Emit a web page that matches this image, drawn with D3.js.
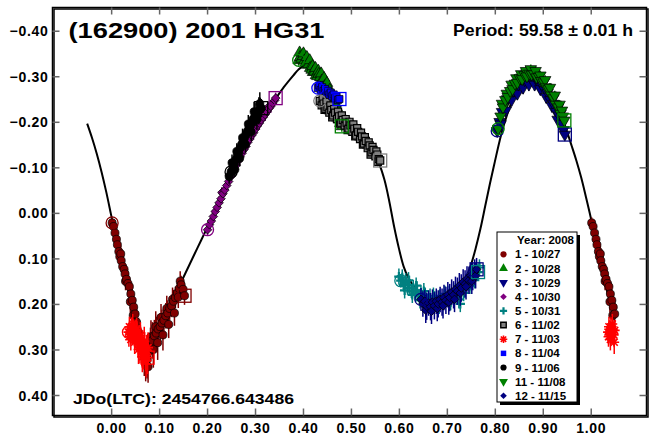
<!DOCTYPE html>
<html><head><meta charset="utf-8">
<script src="https://cdn.jsdelivr.net/npm/d3@7"></script>
<style>
body{margin:0;background:#fff}
svg{display:block}
text{font-family:"Liberation Sans",Arial,sans-serif;font-weight:bold;fill:#000}
</style>
</head><body>
<svg id="c" width="652" height="437"></svg>
<script>
// ---------- DATA ----------
const xTicks = [0.00,0.10,0.20,0.30,0.40,0.50,0.60,0.70,0.80,0.90,1.00];
const yTicks = [-0.40,-0.30,-0.20,-0.10,0.00,0.10,0.20,0.30,0.40];
const titleText = "(162900) 2001 HG31";
const periodText = "Period: 59.58 \u00B1 0.01 h";
const epochText = "JDo(LTC): 2454766.643486";
const legendTitle = "Year: 2008";

// Fourier fit curve (phase, reduced magnitude)
const fitPhase = [-0.05,-0.04,-0.03,-0.02,-0.01,0.00,0.01,0.02,0.03,0.04,0.05,0.06,0.07,0.08,0.09,0.10,0.11,0.12,0.13,0.14,0.16,0.18,0.20,0.22,0.24,0.26,0.28,0.30,0.32,0.34,0.36,0.38,0.39,0.40,0.41,0.42,0.44,0.46,0.48,0.50,0.52,0.54,0.55,0.56,0.57,0.58,0.59,0.60,0.61,0.62,0.64,0.66,0.68,0.70,0.72,0.74,0.75,0.76,0.77,0.78,0.79,0.80,0.81,0.82,0.84,0.86,0.88,0.90,0.92,0.94,0.95,0.96,0.97,0.98,0.99,1.00,1.01,1.02,1.03,1.04,1.05];
const fitMag = [-0.196,-0.165,-0.130,-0.090,-0.045,0.005,0.055,0.100,0.145,0.190,0.228,0.260,0.283,0.290,0.280,0.260,0.238,0.215,0.191,0.166,0.121,0.077,0.033,-0.012,-0.057,-0.100,-0.142,-0.180,-0.215,-0.246,-0.276,-0.302,-0.314,-0.322,-0.322,-0.313,-0.285,-0.254,-0.221,-0.190,-0.162,-0.136,-0.122,-0.104,-0.072,-0.025,0.030,0.078,0.118,0.143,0.172,0.186,0.190,0.184,0.168,0.140,0.115,0.078,0.035,-0.015,-0.065,-0.112,-0.158,-0.197,-0.255,-0.285,-0.296,-0.287,-0.258,-0.210,-0.180,-0.148,-0.115,-0.078,-0.035,0.010,0.060,0.110,0.155,0.195,0.228];

// sessions: [phase, mag, error]; first entry = session start, last entry = session end
const s1_1027 = [[0.002,0.022,0.012],[0.005,0.030,0.015],[0.008,0.044,0.014],[0.011,0.058,0.016],[0.013,0.070,0.018],[0.016,0.085,0.016],[0.018,0.096,0.020],[0.020,0.090,0.018],[0.021,0.105,0.018],[0.024,0.118,0.020],[0.027,0.124,0.020],[0.029,0.134,0.022],[0.030,0.150,0.020],[0.032,0.146,0.020],[0.035,0.155,0.024],[0.038,0.162,0.022],[0.040,0.195,0.024],[0.041,0.178,0.025],[0.044,0.192,0.025],[0.046,0.225,0.026],[0.047,0.207,0.028],[0.050,0.222,0.030],[0.053,0.240,0.030],[0.057,0.262,0.032],[0.061,0.282,0.035],[0.065,0.300,0.040],[0.069,0.318,0.040],[0.072,0.330,0.040],[0.075,0.322,0.042],[0.077,0.338,0.035],[0.078,0.305,0.040],[0.082,0.290,0.038],[0.083,0.272,0.036],[0.086,0.280,0.040],[0.088,0.300,0.040],[0.090,0.270,0.035],[0.093,0.250,0.034],[0.094,0.264,0.036],[0.097,0.285,0.038],[0.098,0.255,0.032],[0.102,0.250,0.030],[0.104,0.230,0.030],[0.106,0.242,0.030],[0.108,0.268,0.034],[0.110,0.236,0.030],[0.114,0.226,0.028],[0.116,0.210,0.028],[0.118,0.220,0.028],[0.120,0.245,0.030],[0.122,0.210,0.026],[0.126,0.204,0.025],[0.128,0.190,0.026],[0.130,0.194,0.025],[0.132,0.220,0.028],[0.134,0.186,0.024],[0.138,0.176,0.022],[0.140,0.185,0.024],[0.142,0.166,0.022],[0.144,0.150,0.022],[0.146,0.158,0.020],[0.150,0.168,0.020],[0.153,0.182,0.020]];
const s2_1028 = [[0.391,-0.335,0.012],[0.393,-0.352,0.012],[0.394,-0.342,0.012],[0.397,-0.338,0.012],[0.400,-0.344,0.012],[0.401,-0.350,0.012],[0.403,-0.334,0.012],[0.406,-0.330,0.012],[0.408,-0.342,0.012],[0.409,-0.325,0.012],[0.412,-0.326,0.012],[0.414,-0.335,0.012],[0.415,-0.318,0.012],[0.418,-0.314,0.012],[0.420,-0.322,0.012],[0.421,-0.309,0.012],[0.424,-0.310,0.012],[0.426,-0.318,0.012],[0.427,-0.302,0.012],[0.430,-0.300,0.012],[0.432,-0.312,0.012],[0.433,-0.305,0.012],[0.436,-0.298,0.012],[0.438,-0.306,0.012],[0.439,-0.290,0.012],[0.442,-0.284,0.012],[0.444,-0.296,0.012],[0.445,-0.278,0.012],[0.448,-0.270,0.012],[0.450,-0.285,0.012],[0.451,-0.262,0.012],[0.454,-0.256,0.012],[0.456,-0.270,0.012],[0.457,-0.248,0.012],[0.460,-0.240,0.012],[0.462,-0.255,0.012],[0.463,-0.233,0.012],[0.466,-0.226,0.012],[0.468,-0.240,0.012],[0.469,-0.220,0.012],[0.472,-0.212,0.012],[0.474,-0.225,0.012],[0.475,-0.205,0.012],[0.478,-0.197,0.012],[0.479,-0.210,0.012],[0.481,-0.190,0.012]];
const s3_1029 = [[0.805,-0.180,0.012],[0.810,-0.200,0.014],[0.812,-0.195,0.014],[0.815,-0.222,0.012],[0.820,-0.236,0.014],[0.823,-0.225,0.014],[0.826,-0.250,0.012],[0.832,-0.256,0.014],[0.835,-0.248,0.014],[0.838,-0.268,0.012],[0.844,-0.272,0.014],[0.847,-0.262,0.014],[0.850,-0.282,0.012],[0.856,-0.284,0.014],[0.859,-0.275,0.014],[0.862,-0.292,0.012],[0.868,-0.290,0.014],[0.871,-0.282,0.014],[0.874,-0.298,0.012],[0.880,-0.294,0.014],[0.883,-0.282,0.014],[0.886,-0.294,0.012],[0.892,-0.286,0.014],[0.895,-0.272,0.014],[0.898,-0.282,0.012],[0.904,-0.270,0.014],[0.907,-0.255,0.014],[0.910,-0.264,0.012],[0.916,-0.248,0.014],[0.919,-0.235,0.014],[0.922,-0.240,0.012],[0.928,-0.222,0.014],[0.931,-0.205,0.014],[0.934,-0.214,0.012],[0.940,-0.196,0.014],[0.943,-0.182,0.014],[0.946,-0.172,0.012]];
const s4_1030 = [[0.201,0.037,0.012],[0.205,0.026,0.012],[0.209,0.018,0.012],[0.213,0.008,0.014],[0.217,-0.003,0.012],[0.221,-0.012,0.012],[0.225,-0.022,0.014],[0.229,-0.031,0.012],[0.231,-0.045,0.012],[0.233,-0.042,0.012],[0.237,-0.050,0.014],[0.241,-0.060,0.012],[0.245,-0.069,0.012],[0.247,-0.082,0.012],[0.249,-0.079,0.014],[0.253,-0.088,0.012],[0.257,-0.096,0.012],[0.261,-0.105,0.014],[0.263,-0.118,0.012],[0.265,-0.114,0.012],[0.269,-0.123,0.012],[0.273,-0.131,0.014],[0.277,-0.139,0.012],[0.279,-0.150,0.012],[0.281,-0.146,0.012],[0.285,-0.155,0.014],[0.289,-0.162,0.012],[0.293,-0.170,0.012],[0.295,-0.180,0.012],[0.297,-0.176,0.014],[0.301,-0.184,0.012],[0.305,-0.191,0.012],[0.309,-0.197,0.014],[0.311,-0.208,0.012],[0.313,-0.204,0.012],[0.317,-0.210,0.012],[0.321,-0.216,0.014],[0.325,-0.222,0.012],[0.327,-0.232,0.012],[0.329,-0.229,0.012],[0.333,-0.234,0.014],[0.337,-0.241,0.012],[0.341,-0.247,0.012],[0.343,-0.252,0.012]];
const s5_1031 = [[0.604,0.149,0.015],[0.600,0.140,0.018],[0.607,0.142,0.018],[0.610,0.158,0.015],[0.612,0.170,0.018],[0.614,0.150,0.018],[0.618,0.165,0.015],[0.620,0.148,0.018],[0.622,0.158,0.020],[0.626,0.172,0.015],[0.628,0.180,0.018],[0.630,0.165,0.018],[0.634,0.178,0.015],[0.636,0.160,0.018],[0.638,0.170,0.020],[0.642,0.182,0.015],[0.644,0.192,0.018],[0.646,0.176,0.018],[0.650,0.188,0.015],[0.652,0.172,0.018],[0.655,0.182,0.018],[0.660,0.192,0.015],[0.662,0.200,0.018],[0.665,0.186,0.020],[0.670,0.196,0.015],[0.672,0.182,0.018],[0.675,0.190,0.018],[0.680,0.198,0.015],[0.684,0.204,0.018],[0.685,0.188,0.020],[0.690,0.194,0.015],[0.695,0.186,0.018],[0.696,0.178,0.018],[0.700,0.190,0.015],[0.705,0.180,0.020],[0.708,0.196,0.018],[0.710,0.186,0.015],[0.715,0.176,0.018],[0.718,0.172,0.018],[0.720,0.182,0.015],[0.725,0.190,0.020],[0.728,0.200,0.018],[0.730,0.165,0.015],[0.735,0.176,0.018],[0.738,0.168,0.018],[0.740,0.158,0.015],[0.745,0.150,0.018],[0.748,0.160,0.018],[0.750,0.142,0.015],[0.755,0.136,0.018],[0.758,0.148,0.018],[0.760,0.128,0.015],[0.768,0.120,0.018],[0.765,0.130,0.018]];
const s6_1102 = [[0.435,-0.246,0.010],[0.439,-0.236,0.010],[0.441,-0.252,0.010],[0.443,-0.240,0.010],[0.445,-0.226,0.010],[0.447,-0.228,0.010],[0.449,-0.244,0.010],[0.451,-0.232,0.010],[0.455,-0.220,0.010],[0.457,-0.236,0.010],[0.459,-0.226,0.010],[0.461,-0.210,0.010],[0.463,-0.214,0.010],[0.465,-0.228,0.010],[0.467,-0.220,0.010],[0.471,-0.206,0.010],[0.473,-0.222,0.010],[0.475,-0.212,0.010],[0.477,-0.196,0.010],[0.479,-0.198,0.010],[0.481,-0.214,0.010],[0.483,-0.204,0.010],[0.487,-0.192,0.010],[0.489,-0.206,0.010],[0.491,-0.198,0.010],[0.493,-0.182,0.010],[0.495,-0.185,0.010],[0.497,-0.200,0.010],[0.499,-0.192,0.010],[0.503,-0.178,0.010],[0.505,-0.194,0.010],[0.507,-0.185,0.010],[0.509,-0.168,0.010],[0.511,-0.170,0.010],[0.513,-0.186,0.010],[0.515,-0.178,0.010],[0.519,-0.162,0.010],[0.521,-0.176,0.010],[0.523,-0.168,0.010],[0.525,-0.150,0.010],[0.527,-0.152,0.010],[0.529,-0.166,0.010],[0.531,-0.158,0.010],[0.535,-0.142,0.010],[0.537,-0.155,0.010],[0.539,-0.148,0.010],[0.541,-0.128,0.010],[0.543,-0.133,0.010],[0.545,-0.145,0.010],[0.547,-0.138,0.010],[0.551,-0.124,0.010],[0.553,-0.135,0.010],[0.555,-0.128,0.010],[0.556,-0.112,0.010],[0.558,-0.118,0.010],[0.561,-0.115,0.010]];
const s7_1103 = [[0.036,0.262,0.020],[0.037,0.272,0.022],[0.038,0.250,0.022],[0.040,0.262,0.020],[0.041,0.278,0.024],[0.042,0.252,0.022],[0.044,0.266,0.022],[0.045,0.244,0.022],[0.046,0.256,0.022],[0.048,0.268,0.024],[0.049,0.284,0.026],[0.050,0.258,0.022],[0.052,0.274,0.028],[0.053,0.256,0.026],[0.054,0.266,0.028],[0.056,0.284,0.034],[0.057,0.300,0.032],[0.058,0.276,0.030],[0.060,0.296,0.035],[0.061,0.270,0.030],[0.062,0.284,0.032],[0.064,0.302,0.035],[0.065,0.316,0.034],[0.066,0.290,0.032],[0.068,0.308,0.036],[0.069,0.282,0.032],[0.070,0.296,0.034],[0.072,0.312,0.036],[0.073,0.325,0.036],[0.074,0.302,0.034],[0.077,0.296,0.034],[0.076,0.318,0.036]];
const s8_1104 = [[0.431,-0.274,0.010],[0.434,-0.280,0.010],[0.437,-0.270,0.010],[0.440,-0.276,0.010],[0.443,-0.268,0.010],[0.446,-0.272,0.010],[0.449,-0.264,0.010],[0.452,-0.268,0.010],[0.455,-0.260,0.010],[0.458,-0.264,0.010],[0.461,-0.256,0.010],[0.464,-0.260,0.010],[0.467,-0.252,0.010],[0.470,-0.256,0.010],[0.473,-0.248,0.010],[0.476,-0.250,0.010]];
const s9_1106 = [[0.250,-0.090,0.015],[0.246,-0.080,0.016],[0.252,-0.110,0.018],[0.254,-0.100,0.018],[0.257,-0.108,0.015],[0.258,-0.095,0.016],[0.260,-0.117,0.020],[0.262,-0.135,0.018],[0.263,-0.125,0.018],[0.266,-0.132,0.020],[0.268,-0.120,0.018],[0.269,-0.142,0.018],[0.272,-0.150,0.020],[0.274,-0.165,0.020],[0.275,-0.157,0.018],[0.278,-0.165,0.020],[0.280,-0.150,0.018],[0.281,-0.172,0.020],[0.284,-0.178,0.022],[0.286,-0.195,0.020],[0.287,-0.185,0.018],[0.290,-0.192,0.020],[0.292,-0.178,0.020],[0.293,-0.198,0.022],[0.296,-0.205,0.020],[0.298,-0.222,0.022],[0.299,-0.210,0.020],[0.302,-0.216,0.025],[0.304,-0.205,0.022],[0.305,-0.220,0.022],[0.308,-0.224,0.030],[0.310,-0.240,0.025],[0.311,-0.228,0.025],[0.313,-0.230,0.020]];
const s11_1108 = [[0.807,-0.185,0.010],[0.812,-0.212,0.010],[0.815,-0.240,0.010],[0.817,-0.232,0.010],[0.822,-0.248,0.010],[0.825,-0.262,0.010],[0.827,-0.255,0.010],[0.832,-0.268,0.010],[0.835,-0.282,0.010],[0.837,-0.272,0.010],[0.842,-0.284,0.010],[0.845,-0.296,0.010],[0.847,-0.286,0.010],[0.852,-0.296,0.010],[0.855,-0.305,0.010],[0.857,-0.294,0.010],[0.862,-0.303,0.010],[0.865,-0.312,0.010],[0.867,-0.300,0.010],[0.872,-0.306,0.010],[0.875,-0.316,0.010],[0.877,-0.304,0.010],[0.882,-0.305,0.010],[0.885,-0.312,0.010],[0.887,-0.298,0.010],[0.892,-0.299,0.010],[0.895,-0.302,0.010],[0.897,-0.290,0.010],[0.902,-0.287,0.010],[0.905,-0.292,0.010],[0.907,-0.276,0.010],[0.912,-0.272,0.010],[0.915,-0.275,0.010],[0.917,-0.258,0.010],[0.922,-0.252,0.010],[0.925,-0.258,0.010],[0.927,-0.238,0.010],[0.932,-0.232,0.010],[0.935,-0.238,0.010],[0.937,-0.218,0.010],[0.940,-0.225,0.010],[0.942,-0.212,0.010],[0.945,-0.203,0.010]];
const s12_1115 = [[0.646,0.190,0.025],[0.650,0.200,0.028],[0.654,0.194,0.025],[0.656,0.214,0.028],[0.658,0.205,0.030],[0.662,0.198,0.028],[0.666,0.206,0.030],[0.668,0.216,0.028],[0.670,0.196,0.028],[0.674,0.204,0.030],[0.678,0.194,0.028],[0.680,0.210,0.028],[0.682,0.200,0.030],[0.686,0.190,0.028],[0.690,0.196,0.030],[0.692,0.204,0.028],[0.694,0.186,0.028],[0.698,0.192,0.030],[0.702,0.180,0.028],[0.704,0.196,0.028],[0.706,0.186,0.030],[0.710,0.174,0.028],[0.714,0.180,0.030],[0.716,0.190,0.028],[0.718,0.168,0.028],[0.722,0.172,0.030],[0.726,0.160,0.028],[0.728,0.176,0.028],[0.730,0.165,0.030],[0.734,0.152,0.028],[0.738,0.156,0.030],[0.740,0.162,0.028],[0.742,0.145,0.028],[0.746,0.148,0.030],[0.750,0.138,0.028],[0.752,0.150,0.028],[0.754,0.140,0.030],[0.758,0.130,0.028],[0.760,0.138,0.028],[0.762,0.124,0.025]];

const sessionLabels = ["1 - 10/27","2 - 10/28","3 - 10/29","4 - 10/30","5 - 10/31","6 - 11/02","7 - 11/03","8 - 11/04","9 - 11/06","11 - 11/08","12 - 11/15"];
const sessionData = [s1_1027,s2_1028,s3_1029,s4_1030,s5_1031,s6_1102,s7_1103,s8_1104,s9_1106,s11_1108,s12_1115];

// ---------- STYLES ----------
const sessionColors = ["#800000","#008000","#000080","#800080","#008080","#808080","#ff0000","#0000ff","#000000","#008000","#000080"];
const sessionShapes = ["circle","triUp","triDown","diamond","plus","square","asterisk","square","circle","triDown","diamond"];

// ---------- LAYOUT ----------
const svg = d3.select("#c");
const L = 52.5, R = 646.5, T = 7.5, B = 415.5;
const x = d3.scaleLinear().domain([-0.1223, 1.1163]).range([L, R]);
const y = d3.scaleLinear().domain([-0.451, 0.445]).range([T, B]);

function markerPath(shape, s) {
  const k = s || 1;
  switch (shape) {
    case "circle": return d3.symbol(d3.symbolCircle, 30*k*k)();
    case "triUp": return d3.symbol(d3.symbolTriangle, 34*k*k)();
    case "triDown": return d3.symbol(d3.symbolTriangle, 34*k*k)();
    case "diamond": return d3.symbol(d3.symbolSquare, 22*k*k)();
    case "square": return d3.symbol(d3.symbolSquare, 30*k*k)();
    case "plus": { const a = 3.6*k; return `M${-a},0H${a}M0,${-a}V${a}`; }
    case "asterisk": { const a = 3.8*k, b = 2.7*k; return `M${-a},0H${a}M0,${-a}V${a}M${-b},${-b}L${b},${b}M${-b},${b}L${b},${-b}`; }
  }
}
function markerRot(shape) {
  if (shape === "triDown") return " rotate(180)";
  if (shape === "diamond") return " rotate(45)";
  return "";
}
function drawMarker(g, shape, color, cx, cy, outline, k) {
  const stroked = (shape === "plus" || shape === "asterisk");
  const p = g.append("path")
    .attr("d", markerPath(shape, k))
    .attr("transform", `translate(${cx},${cy})${markerRot(shape)}`);
  if (stroked) {
    p.attr("fill", "none").attr("stroke", color).attr("stroke-width", shape === "plus" ? 2.2 : 1.6);
  } else {
    p.attr("fill", color);
    if (outline) p.attr("stroke", "#000").attr("stroke-width", outline);
  }
  return p;
}

// ---------- FIT CURVE ----------
const fitPts = fitPhase.map((p, i) => [p, fitMag[i]]);
const plot = svg.append("g");
plot.append("path")
  .datum(fitPts)
  .attr("fill", "none")
  .attr("stroke", "#000")
  .attr("stroke-width", 2)
  .attr("d", d3.line().x(d => x(d[0])).y(d => y(d[1])).curve(d3.curveCatmullRom.alpha(0.5)));

// ---------- DATA POINTS ----------
const wrapMax = 1.05;
const dataScale = 1.3;
sessionData.forEach((data, si) => {
  const color = sessionColors[si], shape = sessionShapes[si];
  const pts = [];
  data.forEach(d => {
    pts.push(d);
    if (d[0] + 1 <= wrapMax) pts.push([d[0] + 1, d[1], d[2]]);
  });
  const g = plot.append("g");
  g.selectAll("line.err").data(pts).enter().append("line")
    .attr("x1", d => x(d[0])).attr("x2", d => x(d[0]))
    .attr("y1", d => y(d[1] - d[2])).attr("y2", d => y(d[1] + d[2]))
    .attr("stroke", color).attr("stroke-width", 1.5);
  pts.forEach(d => {
    const o = (shape === "plus" || shape === "asterisk") ? 0 : (shape === "square" && color === "#808080" ? 1.2 : 0.7);
    drawMarker(g, shape, color, x(d[0]), y(d[1]), o, dataScale);
  });
});

// session start (open circle) and end (open square) markers
sessionData.forEach((data, si) => {
  const color = sessionColors[si];
  const first = data[0], last = data[data.length - 1];
  plot.append("circle")
    .attr("cx", x(first[0])).attr("cy", y(first[1])).attr("r", 6)
    .attr("fill", "none").attr("stroke", color).attr("stroke-width", 1.3);
  plot.append("rect")
    .attr("x", x(last[0]) - 6.5).attr("y", y(last[1]) - 6.5)
    .attr("width", 13).attr("height", 13)
    .attr("fill", "none").attr("stroke", color).attr("stroke-width", 1.3);
});

// ---------- FRAME & AXES ----------
svg.append("rect").attr("x", L + 1.5).attr("y", T + 1.5).attr("width", R - L).attr("height", B - T)
  .attr("fill", "none").attr("stroke", "#000").attr("stroke-width", 1.5);
svg.append("rect").attr("x", L).attr("y", T).attr("width", R - L).attr("height", B - T)
  .attr("fill", "none").attr("stroke", "#000").attr("stroke-width", 1.5);

const tickLen = 7;
const tickColor = "#666";
const axB = svg.append("g").attr("transform", `translate(0,${B})`)
  .call(d3.axisBottom(x).tickValues(xTicks).tickSizeInner(-tickLen).tickSizeOuter(0).tickPadding(8).tickFormat(d3.format(".2f")));
const axT = svg.append("g").attr("transform", `translate(0,${T})`)
  .call(d3.axisTop(x).tickValues(xTicks).tickSizeInner(-tickLen).tickSizeOuter(0).tickFormat(""));
const axL = svg.append("g").attr("transform", `translate(${L},0)`)
  .call(d3.axisLeft(y).tickValues(yTicks).tickSizeInner(-tickLen).tickSizeOuter(0).tickPadding(4).tickFormat(d3.format(".2f")));
const axR = svg.append("g").attr("transform", `translate(${R},0)`)
  .call(d3.axisRight(y).tickValues(yTicks).tickSizeInner(-tickLen).tickSizeOuter(0).tickFormat(""));
[axB, axT, axL, axR].forEach(a => {
  a.select(".domain").remove();
  a.selectAll(".tick line").attr("stroke", tickColor).attr("stroke-width", 1.5);
  a.selectAll(".tick text").attr("font-family", '"Liberation Sans", Arial, sans-serif')
    .attr("font-weight", "bold").attr("font-size", 14).attr("fill", "#000").style("letter-spacing", "0.7px");
});
axB.selectAll(".tick text").attr("dy", "0.71em");
axL.selectAll(".tick text").attr("dy", "0.36em");

// ---------- TEXTS ----------
svg.append("text").attr("x", 68.5).attr("y", 37.5).attr("font-size", 22)
  .attr("textLength", 256).attr("lengthAdjust", "spacingAndGlyphs").text(titleText);
svg.append("text").attr("x", 453).attr("y", 36).attr("font-size", 16.5)
  .attr("textLength", 180).attr("lengthAdjust", "spacingAndGlyphs").text(periodText);
svg.append("text").attr("x", 73).attr("y", 404).attr("font-size", 15)
  .attr("textLength", 221).attr("lengthAdjust", "spacingAndGlyphs").text(epochText);

// ---------- LEGEND ----------
const lg = svg.append("g");
const lx = 497, ly = 232, lw = 80, lh = 170;
lg.append("rect").attr("x", lx + 3).attr("y", ly + 3).attr("width", lw).attr("height", lh).attr("fill", "#000");
lg.append("rect").attr("x", lx).attr("y", ly).attr("width", lw).attr("height", lh)
  .attr("fill", "#fff").attr("stroke", "#000").attr("stroke-width", 1);
lg.append("text").attr("x", lx + lw - 3).attr("y", 240).attr("dy", "0.36em")
  .attr("text-anchor", "end").attr("font-size", 11.5).text(legendTitle);
sessionLabels.forEach((lab, i) => {
  const cy = 254.3 + i * 14.15;
  const o = (sessionShapes[i] === "square" && sessionColors[i] === "#808080") ? 1.4 : 0;
  drawMarker(lg, sessionShapes[i], sessionColors[i], 503.5, cy, o, 1);
  lg.append("text").attr("x", 515).attr("y", cy).attr("dy", "0.36em").attr("font-size", 11.5).text(lab);
});
</script>
</body></html>
